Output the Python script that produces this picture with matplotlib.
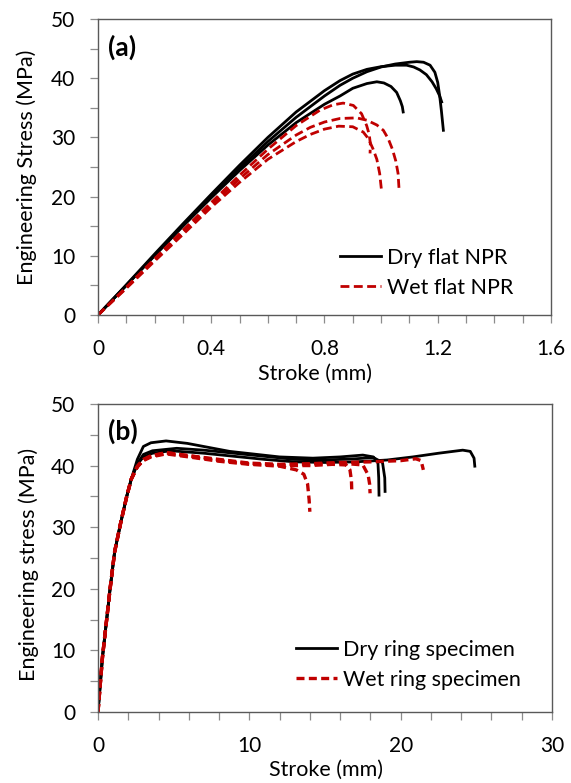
import matplotlib
matplotlib.use("Agg")
import matplotlib.pyplot as plt
from matplotlib.ticker import MultipleLocator

plt.rcParams['font.family'] = ['Lato', 'DejaVu Sans']

# ---------------- (a) flat NPR specimens: stroke (mm) vs stress (MPa) ----------------
dry_flat_1_x = [0, 0.1, 0.2, 0.3, 0.4, 0.5, 0.6, 0.7, 0.8, 0.855, 0.9, 0.95, 1.0, 1.05, 1.1, 1.126, 1.15, 1.173, 1.19, 1.2, 1.207, 1.213, 1.220]
dry_flat_1_y = [0, 5.0, 10.1, 15.1, 20.0, 24.8, 29.3, 33.4, 37.0, 38.8, 40.0, 41.1, 41.9, 42.4, 42.7, 42.8, 42.7, 42.2, 41.0, 39.3, 37.0, 34.5, 31.2]

dry_flat_2_x = [0, 0.1, 0.2, 0.3, 0.4, 0.5, 0.6, 0.7, 0.8, 0.855, 0.9, 0.95, 1.0, 1.05, 1.09, 1.115, 1.137, 1.16, 1.18, 1.195, 1.207, 1.214]
dry_flat_2_y = [0, 5.1, 10.3, 15.4, 20.4, 25.3, 30.0, 34.3, 37.9, 39.6, 40.7, 41.5, 41.95, 42.2, 42.2, 41.9, 41.4, 40.6, 39.4, 38.2, 37.0, 36.0]

dry_flat_3_x = [0, 0.1, 0.2, 0.3, 0.4, 0.5, 0.6, 0.7, 0.8, 0.855, 0.9, 0.95, 0.985, 1.01, 1.035, 1.055, 1.068, 1.075, 1.078]
dry_flat_3_y = [0, 5.0, 10.0, 15.0, 19.8, 24.4, 28.7, 32.5, 35.6, 37.0, 38.3, 39.1, 39.4, 39.2, 38.6, 37.6, 36.2, 35.2, 34.3]

wet_flat_1_x = [0, 0.1, 0.2, 0.3, 0.4, 0.5, 0.6, 0.7, 0.784, 0.83, 0.866, 0.902, 0.931, 0.949, 0.958, 0.962, 0.961]
wet_flat_1_y = [0, 4.7, 9.5, 14.3, 19.0, 23.6, 28.0, 32.0, 34.6, 35.5, 35.8, 35.4, 34.0, 32.0, 30.5, 29.0, 27.3]

wet_flat_2_x = [0, 0.1, 0.2, 0.3, 0.4, 0.5, 0.6, 0.7, 0.75, 0.8, 0.855, 0.914, 0.95, 0.985, 1.008, 1.025, 1.04, 1.052, 1.06, 1.064]
wet_flat_2_y = [0, 4.6, 9.3, 13.9, 18.6, 23.0, 27.1, 30.4, 31.7, 32.6, 33.2, 33.3, 32.9, 32.1, 31.2, 29.8, 28.0, 26.0, 23.9, 20.8]

wet_flat_3_x = [0, 0.1, 0.2, 0.3, 0.4, 0.5, 0.6, 0.7, 0.75, 0.8, 0.85, 0.9, 0.937, 0.955, 0.972, 0.985, 0.995, 1.002]
wet_flat_3_y = [0, 4.5, 9.1, 13.6, 18.2, 22.4, 26.3, 29.3, 30.5, 31.4, 31.9, 31.8, 30.9, 29.8, 28.0, 26.3, 23.9, 20.8]

# ---------------- (b) ring specimens ----------------
ring_rise_x = [0, 0.3, 0.55, 0.8, 1.1, 1.5, 1.9, 2.2]
ring_rise_y = [0, 9.0, 14.5, 20.0, 26.0, 30.7, 35.0, 37.8]

dry_ring_1_x = [2.6, 3.0, 3.5, 4.5, 5.9, 8.7, 12.0, 14.2, 16.0, 17.5, 18.2, 18.5, 18.55, 18.57]
dry_ring_1_y = [41.0, 43.1, 43.7, 44.0, 43.6, 42.3, 41.4, 41.2, 41.4, 41.7, 41.4, 40.4, 38.0, 35.2]

dry_ring_2_x = [2.6, 3.0, 3.6, 5.2, 7.0, 9.0, 11.0, 13.0, 15.0, 17.0, 18.2, 18.8, 18.95, 18.97]
dry_ring_2_y = [40.3, 41.8, 42.4, 42.8, 42.5, 42.0, 41.5, 41.0, 40.9, 41.1, 41.3, 40.5, 38.0, 35.8]

dry_ring_3_x = [2.6, 3.0, 3.6, 4.8, 7.0, 9.0, 11.0, 13.0, 15.0, 17.0, 19.1, 20.8, 22.5, 24.1, 24.6, 24.85, 24.9]
dry_ring_3_y = [40.2, 41.4, 42.0, 42.4, 42.0, 41.5, 41.0, 40.6, 40.5, 40.6, 40.9, 41.4, 42.0, 42.5, 42.3, 41.2, 39.9]

wet_ring_1_x = [2.6, 3.0, 3.5, 4.5, 6.0, 8.0, 10.0, 12.0, 13.1, 13.6, 13.85, 13.95, 14.0]
wet_ring_1_y = [39.8, 40.8, 41.4, 41.9, 41.4, 40.7, 40.2, 39.9, 39.3, 38.6, 37.0, 34.5, 32.5]

wet_ring_2_x = [2.6, 3.0, 3.5, 4.5, 6.0, 8.0, 10.0, 12.0, 14.0, 15.5, 16.4, 16.65, 16.75, 16.77]
wet_ring_2_y = [39.8, 40.9, 41.5, 42.0, 41.5, 40.8, 40.3, 40.0, 40.0, 40.2, 40.1, 39.3, 37.5, 35.8]

wet_ring_3_x = [2.6, 3.0, 3.5, 4.5, 6.0, 8.0, 10.0, 12.0, 14.0, 16.0, 17.5, 17.85, 17.95, 17.98]
wet_ring_3_y = [39.8, 40.9, 41.5, 42.1, 41.6, 40.9, 40.3, 40.1, 40.2, 40.4, 40.1, 38.5, 37.0, 35.5]

wet_ring_4_x = [2.6, 3.0, 3.5, 4.5, 6.0, 8.0, 10.0, 12.0, 14.0, 16.0, 18.0, 20.0, 21.0, 21.35, 21.5]
wet_ring_4_y = [39.9, 41.0, 41.6, 42.1, 41.6, 41.0, 40.4, 40.2, 40.3, 40.5, 40.6, 40.8, 41.1, 40.8, 39.3]

DRY = 'black'
WET = '#C00000'
FS_TICK = 15
FS_LABEL = 15.5
SPINE = '#595959'
TICK = '#8c8c8c'

fig = plt.figure(figsize=(5.71, 7.83), dpi=100)
ax1 = fig.add_axes([0.1716, 0.5977, 0.7933, 0.3780])
ax2 = fig.add_axes([0.1716, 0.0907, 0.7951, 0.3934])


def style_axes(ax, xmax, xmajor, xminor):
    ax.set_xlim(0, xmax)
    ax.set_ylim(0, 50)
    ax.xaxis.set_major_locator(MultipleLocator(xmajor))
    ax.xaxis.set_minor_locator(MultipleLocator(xminor))
    ax.yaxis.set_major_locator(MultipleLocator(10))
    ax.yaxis.set_minor_locator(MultipleLocator(5))
    for s in ax.spines.values():
        s.set_color(SPINE)
        s.set_linewidth(1.0)
    ax.tick_params(which='both', direction='out', length=5.5, width=0.9,
                   color=TICK, labelsize=FS_TICK, labelcolor='black')
    ax.tick_params(axis='x', which='major', pad=12)
    ax.tick_params(axis='y', which='major', pad=11)


# (a)
for xs, ys in [(dry_flat_1_x, dry_flat_1_y), (dry_flat_2_x, dry_flat_2_y), (dry_flat_3_x, dry_flat_3_y)]:
    ax1.plot(xs, ys, color=DRY, lw=2.0)
for xs, ys in [(wet_flat_1_x, wet_flat_1_y), (wet_flat_2_x, wet_flat_2_y), (wet_flat_3_x, wet_flat_3_y)]:
    ax1.plot(xs, ys, color=WET, lw=2.0, dashes=(3.2, 1.6))

style_axes(ax1, 1.6, 0.4, 0.1)
ax1.set_xticks([0, 0.4, 0.8, 1.2, 1.6])
ax1.set_xticklabels(['0', '0.4', '0.8', '1.2', '1.6'])
ax1.set_xlabel('Stroke (mm)', fontsize=FS_LABEL)
ax1.set_ylabel('Engineering Stress (MPa)', fontsize=FS_LABEL)
ax1.xaxis.set_label_coords(0.48, -0.165)
ax1.yaxis.set_label_coords(-0.135, 0.5)
ax1.text(0.022, 0.905, '(a)', transform=ax1.transAxes, fontsize=19,
         fontweight='bold', va='center', ha='left')

h1, = ax1.plot([], [], color=DRY, lw=2.0, label='Dry flat NPR')
h2, = ax1.plot([], [], color=WET, lw=2.0, dashes=(3.2, 1.6), label='Wet flat NPR')
ax1.legend(handles=[h1, h2], loc='upper left', bbox_to_anchor=(0.535, 0.228),
           frameon=False, fontsize=FS_LABEL, handlelength=1.9, handletextpad=0.25,
           labelspacing=0.48, borderpad=0, borderaxespad=0)

# (b)
for xs, ys in [(dry_ring_1_x, dry_ring_1_y), (dry_ring_2_x, dry_ring_2_y), (dry_ring_3_x, dry_ring_3_y)]:
    ax2.plot(ring_rise_x + xs, ring_rise_y + ys, color=DRY, lw=2.0)
for xs, ys in [(wet_ring_1_x, wet_ring_1_y), (wet_ring_2_x, wet_ring_2_y),
               (wet_ring_3_x, wet_ring_3_y), (wet_ring_4_x, wet_ring_4_y)]:
    ax2.plot(ring_rise_x + xs, ring_rise_y + ys, color=WET, lw=2.4, dashes=(2.4, 1.3))

style_axes(ax2, 30, 10, 2)
ax2.set_xlabel('Stroke (mm)', fontsize=FS_LABEL)
ax2.set_ylabel('Engineering stress (MPa)', fontsize=FS_LABEL)
ax2.xaxis.set_label_coords(0.502, -0.155)
ax2.yaxis.set_label_coords(-0.13, 0.48)
ax2.text(0.022, 0.91, '(b)', transform=ax2.transAxes, fontsize=19,
         fontweight='bold', va='center', ha='left')

h3, = ax2.plot([], [], color=DRY, lw=2.0, label='Dry ring specimen')
h4, = ax2.plot([], [], color=WET, lw=2.4, dashes=(2.4, 1.3), label='Wet ring specimen')
ax2.legend(handles=[h3, h4], loc='upper left', bbox_to_anchor=(0.437, 0.235),
           frameon=False, fontsize=FS_LABEL, handlelength=1.9, handletextpad=0.25,
           labelspacing=0.48, borderpad=0, borderaxespad=0)

fig.savefig('out.png', dpi=100)
